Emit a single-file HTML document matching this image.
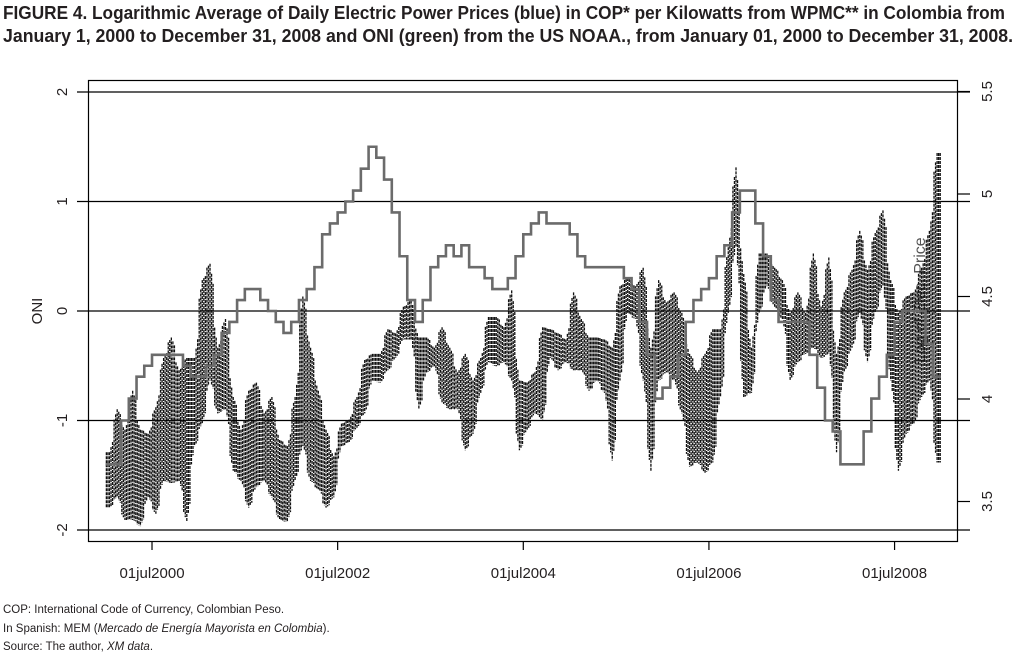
<!DOCTYPE html>
<html><head><meta charset="utf-8"><style>
html,body{margin:0;padding:0;background:#fff;}
svg{display:block;font-family:"Liberation Sans Narrow","Liberation Sans",sans-serif;}
</style></head><body>
<svg id="chart" width="1018" height="657" viewBox="0 0 1018 657" xmlns="http://www.w3.org/2000/svg">
<text x="3" y="19" font-size="18" font-weight="bold" fill="#231f20" textLength="1002" lengthAdjust="spacingAndGlyphs">FIGURE 4. Logarithmic Average of Daily Electric Power Prices (blue) in COP* per Kilowatts from WPMC** in Colombia from</text>
<text x="3" y="42" font-size="18" font-weight="bold" fill="#231f20" textLength="1010" lengthAdjust="spacingAndGlyphs">January 1, 2000 to December 31, 2008 and ONI (green) from the US NOAA., from January 01, 2000 to December 31, 2008.</text>
<g id="grid"></g>
<text transform="translate(925,300) rotate(-90)" text-anchor="middle" font-size="16" fill="#555">Log of Elec. Price</text>
<g id="price"></g>
<g id="oni"></g>
<rect x="88.5" y="80.5" width="869" height="461" fill="none" stroke="#000" stroke-width="1.2"/>
<g id="axes"></g>
<text transform="translate(42,311) rotate(-90)" text-anchor="middle" font-size="15" fill="#231f20">ONI</text>
<text x="3" y="613" font-size="11.5" fill="#231f20">COP: International Code of Currency, Colombian Peso.</text>
<text x="3" y="632" font-size="11.5" fill="#231f20">In Spanish: MEM (<tspan font-style="italic">Mercado de Energía Mayorista en Colombia</tspan>).</text>
<text x="3" y="650" font-size="11.5" fill="#231f20">Source: The author, <tspan font-style="italic">XM data</tspan>.</text>
</svg>
<script>
// Monthly ONI values Jan 2000 .. Dec 2008
const oniValues = [-1.4,-1.4,-1.0,-0.8,-0.6,-0.5,-0.4,-0.4,-0.4,-0.4,-0.5,-0.6,
-0.6,-0.5,-0.4,-0.2,-0.1,0.1,0.2,0.2,0.1,0.0,-0.1,-0.2,
-0.1,0.1,0.2,0.4,0.7,0.8,0.9,1.0,1.1,1.3,1.5,1.4,
1.2,0.9,0.5,0.1,-0.1,0.1,0.4,0.5,0.6,0.5,0.6,0.4,
0.4,0.3,0.2,0.2,0.3,0.5,0.7,0.8,0.9,0.8,0.8,0.8,
0.7,0.5,0.4,0.4,0.4,0.4,0.4,0.3,0.2,-0.1,-0.4,-0.8,
-0.7,-0.6,-0.4,-0.1,0.1,0.2,0.3,0.5,0.6,0.9,1.1,1.1,
0.8,0.5,0.1,-0.1,-0.1,-0.1,-0.1,-0.4,-0.7,-1.0,-1.1,-1.4,
-1.4,-1.4,-1.1,-0.8,-0.6,-0.4,-0.1,0.0,0.0,0.0,-0.3,-0.6];
// Monthly high / low of daily log price
const priceHigh = [3.74,3.95,3.85,4.04,3.85,3.83,3.96,4.20,4.30,4.14,4.20,4.20,
4.58,4.66,4.25,4.39,4.01,3.85,4.04,4.08,3.93,4.01,3.80,3.77,
4.01,4.50,4.25,4.04,3.85,3.72,3.88,3.90,4.01,4.19,4.22,4.22,
4.34,4.32,4.45,4.48,4.30,4.30,4.25,4.35,4.25,4.13,4.22,4.09,
4.20,4.40,4.40,4.35,4.53,4.09,4.08,4.13,4.35,4.34,4.32,4.29,
4.52,4.39,4.30,4.30,4.29,4.25,4.55,4.59,4.55,4.64,4.25,4.58,
4.47,4.52,4.42,4.22,4.13,4.22,4.34,4.34,4.74,5.13,4.61,4.25,
4.71,4.71,4.64,4.58,4.42,4.52,4.42,4.71,4.45,4.69,4.22,4.52,
4.63,4.82,4.63,4.81,4.92,4.58,4.42,4.50,4.52,4.64,4.82,5.20];
const priceLow = [3.47,3.52,3.41,3.41,3.38,3.52,3.44,3.60,3.59,3.60,3.40,3.77,
3.88,4.09,3.93,3.95,3.65,3.60,3.47,3.57,3.60,3.52,3.41,3.40,
3.60,3.77,3.60,3.56,3.47,3.52,3.77,3.79,3.86,3.93,4.09,4.08,
4.14,4.20,4.29,4.29,3.95,4.13,4.16,3.98,3.95,3.95,3.75,3.83,
4.03,4.18,4.16,4.18,4.09,3.75,3.85,3.93,3.90,4.20,4.14,4.18,
4.14,4.14,4.04,4.09,4.03,3.70,4.09,4.42,4.39,4.09,3.65,4.09,
4.13,4.09,3.93,3.67,3.69,3.64,3.69,4.01,4.42,4.74,4.01,4.03,
4.42,4.55,4.45,4.39,4.09,4.18,4.22,4.25,4.20,4.22,3.74,4.13,
4.25,4.42,4.18,4.42,4.55,4.09,3.65,3.83,3.88,4.01,4.09,3.69];
const oniTicks = [-2,-1,0,1,2];
const priceTicks = [3.5,4,4.5,5,5.5];
const priceTickLabels = ["3.5","4","4.5","5","5.5"];
const dateTickMonths = [6,30,54,78,102];
const dateTickLabels = ["01jul2000","01jul2002","01jul2004","01jul2006","01jul2008"];

const NS = "http://www.w3.org/2000/svg";
const X0 = 105.6, MW = 7.735;
const xM = m => X0 + MW * m;
const yOni = v => 311 - 109.5 * v;
const yPrice = p => 91.5 + (5.5 - p) * 205;
function mk(tag, attrs, parent){const e=document.createElementNS(NS,tag);for(const k in attrs)e.setAttribute(k,attrs[k]);parent.appendChild(e);return e;}

const grid = document.getElementById('grid');
oniTicks.forEach(v=>{
  const l = mk('line',{x1:77,x2:970,y1:yOni(v),y2:yOni(v),stroke:'#000','stroke-width':1.2},grid);
  
  
});
const axes = document.getElementById('axes');
oniTicks.forEach(v=>{
  const t = mk('text',{transform:`translate(67,${yOni(v)}) rotate(-90)`,'text-anchor':'middle','font-size':15,fill:'#231f20'},axes);
  t.textContent = String(v);
  
  
});
priceTicks.forEach((p,i)=>{
  const l = mk('line',{x1:958,x2:970,y1:yPrice(p),y2:yPrice(p),stroke:'#000','stroke-width':1.2},axes);
  
  
  const t = mk('text',{transform:`translate(992,${yPrice(p)}) rotate(-90)`,'text-anchor':'middle','font-size':15,fill:'#231f20'},axes);
  t.textContent = priceTickLabels[i];
  
  
});
dateTickMonths.forEach((m,i)=>{
  const x = xM(m);
  const l = mk('line',{x1:x,x2:x,y1:542,y2:550,stroke:'#000','stroke-width':1.2},axes);
  
  
  const t = mk('text',{x:x,y:578,'text-anchor':'middle','font-size':15,fill:'#231f20'},axes);
  t.textContent = dateTickLabels[i];
  
  
});

// price: dense vertical dashed strokes per month, blended toward neighbours
const pg = document.getElementById('price');
const N = priceHigh.length;
priceHigh.forEach((p,m)=>{
  const steps = 5;
  for(let k=0;k<steps;k++){
    const f = (k+0.5)/steps;           // position within month
    const nb = f<0.5 ? Math.max(m-1,0) : Math.min(m+1,N-1);
    const w = Math.abs(f-0.5)*0.6;      // blend weight toward neighbour (visual only)
    const hi = p*(1-w) + priceHigh[nb]*w;
    const lo = priceLow[m]*(1-w) + priceLow[nb]*w;
    const x = xM(m+f);
    const r = mk('line',{x1:x,x2:x,y1:yPrice(hi),y2:yPrice(lo),stroke:'#111','stroke-width':1.3,'stroke-dasharray':'3 1'},pg);
    
    
  }
});

// ONI step line
let d = '';
oniValues.forEach((v,m)=>{
  const y = yOni(v);
  d += (m===0?`M${xM(m)},${y}`:`V${y}`) + `H${xM(m+1)}`;
});
const og = document.getElementById('oni');
const path = mk('path',{d:d,fill:'none',stroke:'#6b6b6b','stroke-width':2.6},og);


</script>
</body></html>
